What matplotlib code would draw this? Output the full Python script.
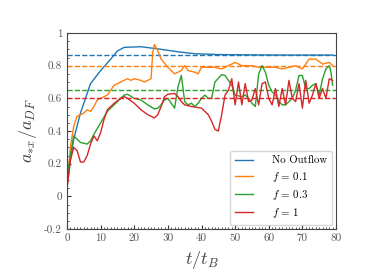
import matplotlib
matplotlib.use("Agg")
import matplotlib.pyplot as plt
import numpy as np

plt.rcParams['font.family'] = ['cmr10', 'DejaVu Serif']
plt.rcParams['mathtext.fontset'] = 'cm'
plt.rcParams['axes.unicode_minus'] = False
plt.rcParams['axes.formatter.use_mathtext'] = True

t_blue = [0, 1, 2, 4, 7, 10, 13, 15, 17, 22, 28, 33, 38, 45, 55, 65, 79]
v_blue = [0.05, 0.22, 0.35, 0.51, 0.69, 0.77, 0.84, 0.89, 0.912, 0.916, 0.90, 0.885, 0.873, 0.868, 0.866, 0.865, 0.865]

t_orange = [0, 1, 2, 3, 4, 5, 6, 7, 8, 9, 10, 12, 13, 14, 16, 18, 19, 20, 22, 23, 25, 25.5, 26, 27, 28, 30, 32,
            34, 35, 36, 38, 39, 40, 42, 44, 46, 48, 50, 52, 55, 57, 60, 62, 64, 66, 68, 70, 72, 74, 76, 78, 79]
v_orange = [0.05, 0.30, 0.43, 0.49, 0.50, 0.51, 0.53, 0.52, 0.55, 0.59, 0.60, 0.62, 0.65, 0.68, 0.70, 0.72, 0.71,
            0.72, 0.71, 0.70, 0.72, 0.88, 0.93, 0.89, 0.84, 0.79, 0.75, 0.77, 0.80, 0.77, 0.76, 0.75, 0.79, 0.79,
            0.79, 0.78, 0.80, 0.82, 0.80, 0.80, 0.79, 0.79, 0.79, 0.78, 0.79, 0.80, 0.78, 0.84, 0.84, 0.81, 0.82, 0.80]

t_green = [0, 1, 2, 3, 4, 6, 7, 8, 10, 12, 14, 16, 17, 18, 20, 22, 24, 26, 27, 28, 29, 30, 31, 32, 33, 34, 35,
           36, 37, 38, 39, 40, 41, 42, 43, 44, 46, 47, 48, 49, 50, 52, 53, 54, 55, 56, 57, 58, 59, 60, 61, 62,
           63, 64, 65, 66, 67, 68, 69, 70, 71, 72, 73, 74, 75, 76, 77, 78, 78.5, 79]
v_green = [0.10, 0.25, 0.37, 0.35, 0.33, 0.32, 0.34, 0.38, 0.45, 0.52, 0.56, 0.60, 0.62, 0.625, 0.60, 0.59, 0.56,
           0.535, 0.54, 0.56, 0.59, 0.60, 0.57, 0.54, 0.67, 0.74, 0.58, 0.56, 0.57, 0.55, 0.57, 0.60, 0.62, 0.60,
           0.60, 0.70, 0.745, 0.74, 0.71, 0.68, 0.62, 0.61, 0.62, 0.60, 0.57, 0.55, 0.75, 0.80, 0.76, 0.68, 0.64,
           0.62, 0.58, 0.56, 0.56, 0.58, 0.60, 0.65, 0.74, 0.74, 0.66, 0.66, 0.68, 0.69, 0.62, 0.72, 0.78, 0.80,
           0.76, 0.68]

t_red = [0, 1, 2, 3, 4, 5, 6, 7, 8, 9, 10, 11, 12, 14, 16, 17, 18, 20, 22, 24, 26, 27, 28, 29, 30, 32, 33, 34,
         35, 37, 40, 42, 43, 44, 45, 46, 47, 48, 49, 50, 51, 52, 53, 54, 55, 56, 57, 58, 59, 60, 61, 62, 63, 64,
         65, 66, 67, 68, 69, 70, 71, 72, 73, 74, 75, 76, 77, 78, 79]
v_red = [0.05, 0.22, 0.30, 0.28, 0.21, 0.21, 0.25, 0.32, 0.37, 0.34, 0.39, 0.47, 0.53, 0.57, 0.60, 0.61, 0.60,
         0.57, 0.53, 0.50, 0.48, 0.50, 0.55, 0.61, 0.625, 0.63, 0.61, 0.58, 0.56, 0.55, 0.54, 0.50, 0.46, 0.41,
         0.40, 0.50, 0.62, 0.65, 0.72, 0.56, 0.70, 0.56, 0.69, 0.58, 0.59, 0.66, 0.56, 0.69, 0.70, 0.60, 0.56,
         0.66, 0.55, 0.66, 0.56, 0.71, 0.60, 0.58, 0.69, 0.54, 0.71, 0.57, 0.62, 0.69, 0.60, 0.66, 0.60, 0.72,
         0.71]

ref_levels = [0.867, 0.796, 0.653, 0.604]
labels = ['No Outflow', r'$f\,=\,0.1$', r'$f\,=\,0.3$', r'$f\,=\,1$']
colors = ['#1f77b4', '#ff7f0e', '#2ca02c', '#d62728']
y_ticks = [-0.2, 0, 0.2, 0.4, 0.6, 0.8, 1]
y_tick_labels = ['-0.2', '0', '0.2', '0.4', '0.6', '0.8', '1']
x_ticks = [0, 10, 20, 30, 40, 50, 60, 70, 80]

fig = plt.figure(figsize=(3.74, 2.8), dpi=100)
ax = fig.add_axes([67/374, 1 - 229/280, (336-67)/374, (229-33)/280])

series = [(t_blue, v_blue), (t_orange, v_orange), (t_green, v_green), (t_red, v_red)]
for (tt, vv), c, lab, lev in zip(series, colors, labels, ref_levels):
    ax.plot(tt, vv, color=c, lw=1.0, label=lab)
    ax.axhline(lev, color=c, lw=1.0, ls='--')

ax.set_xlim(0, 80)
ax.set_ylim(-0.2, 1)
ax.set_xticks(x_ticks)
ax.set_xticklabels([str(x) for x in x_ticks])
ax.set_yticks(y_ticks)
ax.set_yticklabels(y_tick_labels)
ax.set_xticks(np.arange(0, 81, 1), minor=True)
ax.set_yticks(np.arange(-0.2, 1.001, 0.05), minor=True)
ax.tick_params(which='both', direction='in', top=False, right=False, labelsize=8, colors='#333333', labelcolor='#555555')
ax.tick_params(which='major', length=3)
ax.tick_params(which='minor', length=1.5)
for s in ax.spines.values():
    s.set_color('#444444')
    s.set_linewidth(0.8)

ax.set_xlabel(r'$t/t_B$', fontsize=13, color='#444444')
ax.set_ylabel(r'$a_{*x}/a_{DF}$', fontsize=13, color='#444444')

leg = ax.legend(loc='lower right', fontsize=7.8, frameon=True, fancybox=True, handlelength=1.7,
                handletextpad=1.7, labelspacing=0.38, borderpad=0.45, borderaxespad=0.4)
leg.get_frame().set_edgecolor('#cccccc')

fig.savefig('out.png', dpi=100)
